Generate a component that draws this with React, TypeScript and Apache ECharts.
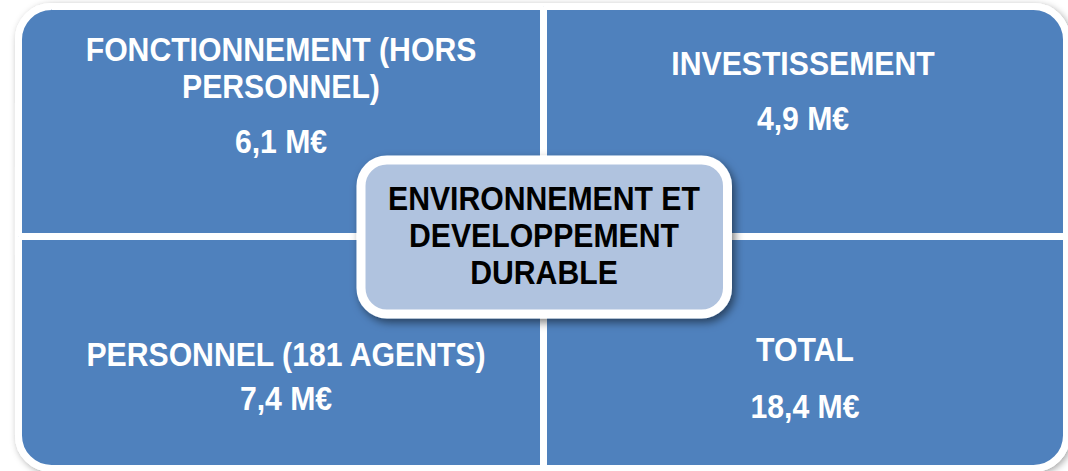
import React, { useEffect, useRef } from "react";
import * as echarts from "echarts";

// ---- Data ----
const quadrantTitles: string[] = [
  "FONCTIONNEMENT (HORS\nPERSONNEL)",
  "INVESTISSEMENT",
  "PERSONNEL (181 AGENTS)",
  "TOTAL",
];
const quadrantValues: string[] = ["6,1 M€", "4,9 M€", "7,4 M€", "18,4 M€"];
const centerTitle: string = "ENVIRONNEMENT ET\nDEVELOPPEMENT\nDURABLE";

// ---- Layout / style (not data) ----
const W = 1068;
const H = 471;
const BLUE = "#4F81BD";
const LIGHT = "#B0C3DF";
const FONT = '"Liberation Sans", Arial, sans-serif';
const FS = 33;
const SX = 0.915;

const xL = 18.5, xG = 543.5, xR = 1066.5;
const yT = 6.5, yG = 236.5, yB = 468.5;
const R = 33;

const quadRects = [
  { x: xL, y: yT, w: xG - xL, h: yG - yT, r: [R, 0, 0, 0] },
  { x: xG, y: yT, w: xR - xG, h: yG - yT, r: [0, R, 0, 0] },
  { x: xL, y: yG, w: xG - xL, h: yB - yG, r: [0, 0, 0, R] },
  { x: xG, y: yG, w: xR - xG, h: yB - yG, r: [0, 0, R, 0] },
];
// title block centre y, value centre y, centre x
const textPos = [
  { cx: 281, ty: 68, vy: 141.5 },
  { cx: 803, ty: 64, vy: 119 },
  { cx: 286, ty: 355, vy: 399 },
  { cx: 805, ty: 350, vy: 407 },
];

function txt(text: string, x: number, y: number, color: string) {
  return {
    type: "text",
    x,
    y,
    scaleX: SX,
    style: {
      text,
      fill: color,
      font: `bold ${FS}px ${FONT}`,
      align: "center",
      verticalAlign: "middle",
      lineHeight: 37,
    },
    z: 10,
  };
}

export default function App() {
  const ref = useRef<HTMLDivElement>(null);
  useEffect(() => {
    if (!ref.current) return;
    const chart = echarts.init(ref.current, undefined, { renderer: "svg" });
    const elements: any[] = [];
    // outer frame with shadow
    elements.push({
      type: "rect",
      shape: { x: xL, y: yT, width: xR - xL, height: yB - yT, r: R },
      style: {
        fill: "#ffffff",
        stroke: "#ffffff",
        lineWidth: 7,
        shadowBlur: 7,
        shadowOffsetX: 2,
        shadowOffsetY: 2,
        shadowColor: "rgba(0,0,0,0.35)",
      },
      z: 1,
    });
    quadRects.forEach((q) => {
      elements.push({
        type: "rect",
        shape: { x: q.x, y: q.y, width: q.w, height: q.h, r: q.r },
        style: { fill: BLUE, stroke: "#ffffff", lineWidth: 7 },
        z: 2,
      });
    });
    quadrantTitles.forEach((t, i) => {
      const p = textPos[i];
      elements.push(txt(t, p.cx, p.ty, "#ffffff"));
      elements.push(txt(quadrantValues[i], p.cx, p.vy, "#ffffff"));
    });
    // centre box
    elements.push({
      type: "rect",
      shape: { x: 361, y: 160, width: 366.5, height: 154, r: 26 },
      style: {
        fill: LIGHT,
        stroke: "#ffffff",
        lineWidth: 9,
        shadowBlur: 8,
        shadowOffsetX: 3,
        shadowOffsetY: 4,
        shadowColor: "rgba(0,0,0,0.5)",
      },
      z: 5,
    });
    elements.push(txt(centerTitle, 544, 236, "#000000"));

    chart.setOption({
      animation: false,
      graphic: { elements },
    });
    return () => chart.dispose();
  }, []);
  return (
    <div
      ref={ref}
      style={{ position: "fixed", left: 0, top: 0, width: W, height: H, background: "#ffffff" }}
    />
  );
}
